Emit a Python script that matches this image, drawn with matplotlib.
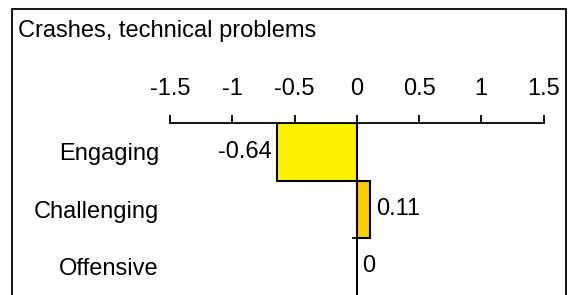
import matplotlib.pyplot as plt
from matplotlib.patches import Rectangle

plt.rcParams['font.family'] = ['Liberation Sans', 'DejaVu Sans']

title = 'Crashes, technical problems'
categories = ['Engaging', 'Challenging', 'Offensive']
values = [-0.64, 0.11, 0.0]
bar_colors = ['#FFF200', '#FFCC00', '#FFCC00']
ticks = [-1.5, -1, -0.5, 0, 0.5, 1, 1.5]
tick_labels = ['-1.5', '-1', '-0.5', '0', '0.5', '1', '1.5']

W, H = 568, 295
fs = 17
fig = plt.figure(figsize=(W / 100, H / 100), dpi=100)

# outer frame (runs off the bottom of the picture)
fig.patches.append(Rectangle((12 / W, -0.2), 554 / W, (H - 9) / H + 0.2,
                             transform=fig.transFigure, fill=False,
                             edgecolor='black', linewidth=1.3))
fig.text(18 / W, (H - 36.5) / H, title, fontsize=fs, va='baseline', ha='left')

band = 57.2
ax_top = 123.3
ax_bottom = ax_top + band * 3
ax = fig.add_axes([170 / W, (H - ax_bottom) / H, 373.5 / W, band * 3 / H])

y = range(len(categories))
ax.barh(y, values, height=1.0, color=bar_colors, edgecolor='black', linewidth=1.5,
        zorder=2)
ax.set_xlim(-1.5, 1.5)
ax.set_ylim(len(categories) - 0.5, -0.5)

ax.xaxis.tick_top()
ax.set_xticks(ticks)
ax.set_xticklabels(tick_labels, fontsize=fs)
ax.tick_params(axis='x', direction='out', length=6, width=1.3, pad=11)
ax.tick_params(axis='y', length=0, pad=8)
ax.set_yticks(list(y))
ax.set_yticklabels(categories, fontsize=fs)

for s in ['left', 'right', 'bottom']:
    ax.spines[s].set_visible(False)
ax.spines['top'].set_linewidth(1.3)
ax.axvline(0, color='black', linewidth=1.3, zorder=3)
# small category tick on the zero line
ax.plot([-0.03, 0], [1.5, 1.5], color='black', linewidth=1.3, zorder=3,
        clip_on=False)

for i, v in enumerate(values):
    if v < 0:
        ax.annotate(f'{v:g}', (v, i), xytext=(-4, 0), textcoords='offset points',
                    ha='right', va='center', fontsize=fs)
    else:
        ax.annotate(f'{v:g}', (v, i), xytext=(4, 0), textcoords='offset points',
                    ha='left', va='center', fontsize=fs)

fig.savefig('out.png', dpi=100)
